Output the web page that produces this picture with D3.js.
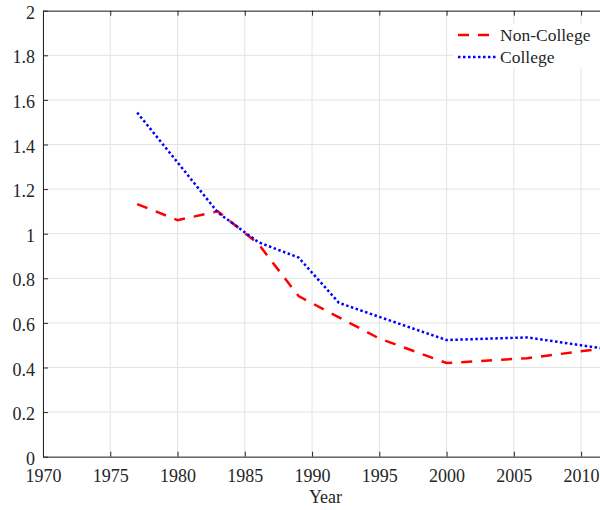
<!DOCTYPE html>
<html>
<head>
<meta charset="utf-8">
<script src="https://cdn.jsdelivr.net/npm/d3@7"></script>
<style>
  body { margin: 0; background: #fff; }
  svg { display: block; font-family: "Liberation Serif", "Times New Roman", serif; }
  .grid line { stroke: #e3e3e3; stroke-width: 1; }
  .axis path, .axis line { stroke: #262626; }
  .axis text { fill: #262626; font-size: 18px; font-family: "Liberation Serif", serif; }
</style>
</head>
<body>
<div id="chart"></div>
<script>
/* data */
var years = [1977, 1980, 1983, 1986, 1989, 1992, 1995, 2000, 2006, 2012];
var nonCollege = [1.133, 1.061, 1.10, 0.955, 0.72, 0.625, 0.53, 0.42, 0.442, 0.488];
var college = [1.543, 1.32, 1.095, 0.962, 0.893, 0.69, 0.627, 0.523, 0.535, 0.482];
var xTicks = [1970, 1975, 1980, 1985, 1990, 1995, 2000, 2005, 2010];
var yTicks = [0, 0.2, 0.4, 0.6, 0.8, 1, 1.2, 1.4, 1.6, 1.8, 2];
var seriesNames = ["Non-College", "College"];

var width = 600, height = 510;
var mLeft = 43, mTop = 10.7, mBottom = 456.7, mRight = 608;

var svg = d3.select("#chart").append("svg")
  .attr("width", width)
  .attr("height", height);

var x = d3.scaleLinear().domain([1970, 2012]).range([mLeft, mRight]);
var y = d3.scaleLinear().domain([0, 2]).range([mBottom, mTop]);

/* grid */
var grid = svg.append("g").attr("class", "grid");
grid.selectAll(".gx").data(xTicks).enter().append("line")
  .attr("x1", function(d) { return x(d); })
  .attr("x2", function(d) { return x(d); })
  .attr("y1", mTop).attr("y2", mBottom);
grid.selectAll(".gy").data(yTicks).enter().append("line")
  .attr("x1", mLeft).attr("x2", mRight)
  .attr("y1", function(d) { return y(d); })
  .attr("y2", function(d) { return y(d); });

/* lines */
var line = d3.line()
  .x(function(d) { return x(d[0]); })
  .y(function(d) { return y(d[1]); });

svg.append("path")
  .datum(d3.zip(years, nonCollege))
  .attr("fill", "none")
  .attr("stroke", "#ff0000")
  .attr("stroke-width", 2.5)
  .attr("stroke-dasharray", "11,9")
  .attr("d", line);

svg.append("path")
  .datum(d3.zip(years, college))
  .attr("fill", "none")
  .attr("stroke", "#0000ff")
  .attr("stroke-width", 2.5)
  .attr("stroke-dasharray", "2.5,2.5")
  .attr("d", line);

/* axes, ticks pointing inward */
var fmt = d3.format("~g");
svg.append("g")
  .attr("class", "axis")
  .attr("transform", "translate(0," + mBottom + ")")
  .call(d3.axisBottom(x).tickValues(xTicks).tickFormat(d3.format("d"))
    .tickSizeInner(-5).tickSizeOuter(0).tickPadding(13));
svg.append("g")
  .attr("class", "axis")
  .attr("transform", "translate(" + mLeft + ",0)")
  .call(d3.axisLeft(y).tickValues(yTicks).tickFormat(fmt)
    .tickSizeInner(-5).tickSizeOuter(0).tickPadding(8))
  .selectAll("text").attr("dy", "0.42em");
svg.append("g")
  .attr("class", "axis")
  .attr("transform", "translate(0," + mTop + ")")
  .call(d3.axisTop(x).tickValues(xTicks).tickFormat("")
    .tickSizeInner(-5).tickSizeOuter(0));

svg.append("text")
  .attr("x", (mLeft + mRight) / 2)
  .attr("y", 503)
  .attr("text-anchor", "middle")
  .attr("font-size", 18)
  .attr("fill", "#262626")
  .text("Year");

/* legend */
var legend = svg.append("g");
legend.append("rect")
  .attr("x", 453).attr("y", 24)
  .attr("width", 150).attr("height", 44)
  .attr("fill", "#fff");
var legStyle = [
  {color: "#ff0000", dash: "11,9", x2: 489.5, y: 35},
  {color: "#0000ff", dash: "2.5,2.5", x2: 496, y: 57}
];
seriesNames.forEach(function(name, i) {
  legend.append("line")
    .attr("x1", 458).attr("x2", legStyle[i].x2)
    .attr("y1", legStyle[i].y).attr("y2", legStyle[i].y)
    .attr("stroke", legStyle[i].color)
    .attr("stroke-width", 2.5)
    .attr("stroke-dasharray", legStyle[i].dash);
  legend.append("text")
    .attr("x", 500)
    .attr("y", legStyle[i].y + 5.5)
    .attr("font-size", 17.5)
    .attr("fill", "#262626")
    .text(name);
});
</script>
</body>
</html>
